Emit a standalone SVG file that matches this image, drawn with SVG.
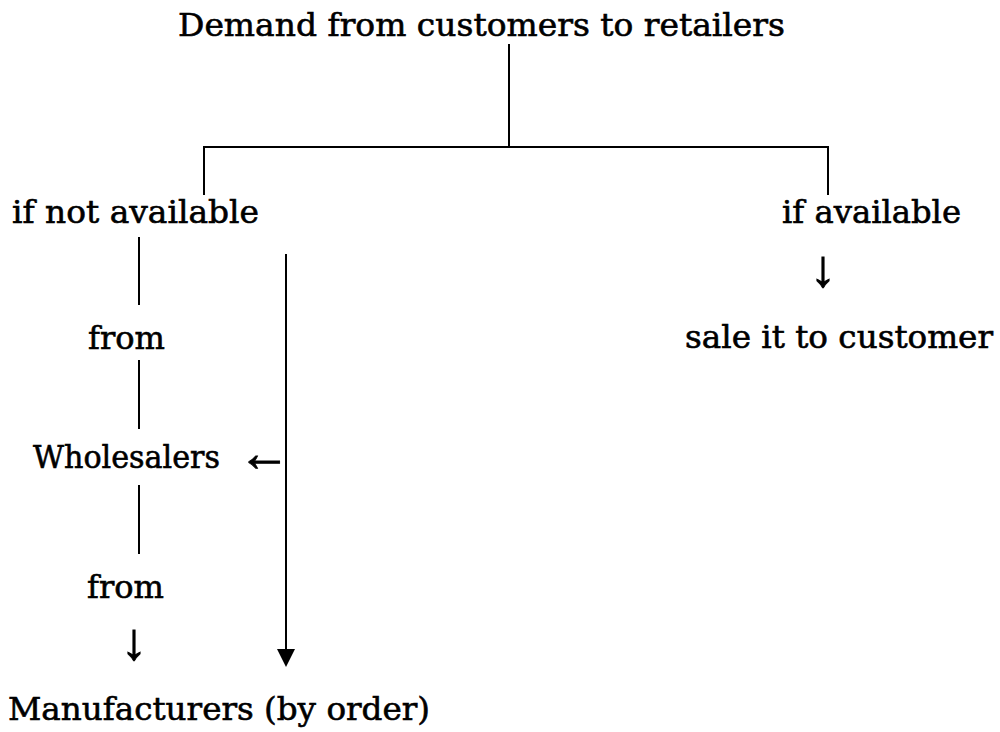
<svg xmlns="http://www.w3.org/2000/svg" width="1000" height="732" viewBox="0 0 1000 732">
<style>
.t{font-family:"DejaVu Serif","Liberation Serif",serif;font-size:32.5px;fill:#000;stroke:#000;stroke-width:0.6}
.a{font-family:"Liberation Serif","DejaVu Serif",serif;font-size:52px;fill:#000;stroke:#000;stroke-width:0.9}
.c{stroke:#000;stroke-width:2;fill:none}
</style>
<rect width="1000" height="732" fill="#fff"/>
<g id="connectors">
<line class="c" x1="509" y1="44" x2="509" y2="148"/>
<line class="c" x1="204" y1="147" x2="829" y2="147" stroke-width="2.5"/>
<line class="c" x1="204" y1="146" x2="204" y2="195"/>
<line class="c" x1="828" y1="146" x2="828" y2="195"/>
<line class="c" x1="139" y1="237" x2="139" y2="305"/>
<line class="c" x1="139" y1="360" x2="139" y2="429"/>
<line class="c" x1="139" y1="485" x2="139" y2="554"/>
<line class="c" x1="286" y1="254" x2="286" y2="652"/>
<path d="M277,649 L295,649 L286,667 Z" fill="#000"/>
</g>
<g id="n-demand"><text class="t" x="178" y="36" textLength="607" lengthAdjust="spacingAndGlyphs">Demand from customers to retailers</text></g>
<g id="n-notavail"><text class="t" x="12" y="223" textLength="247" lengthAdjust="spacingAndGlyphs">if not available</text></g>
<g id="n-avail"><text class="t" x="782" y="223" textLength="179" lengthAdjust="spacingAndGlyphs">if available</text></g>
<g id="n-arrow-right"><text class="a" x="823" y="286" text-anchor="middle">↓</text></g>
<g id="n-sale"><text class="t" x="685" y="348" textLength="308" lengthAdjust="spacingAndGlyphs">sale it to customer</text></g>
<g id="n-from1"><text class="t" x="88" y="349" textLength="77" lengthAdjust="spacingAndGlyphs">from</text></g>
<g id="n-wholesalers"><text class="t" x="33" y="468" textLength="187" lengthAdjust="spacingAndGlyphs">Wholesalers</text><text class="a" x="264" y="471" text-anchor="middle">←</text></g>
<g id="n-from2"><text class="t" x="87" y="598" textLength="77" lengthAdjust="spacingAndGlyphs">from</text></g>
<g id="n-arrow-left"><text class="a" x="134" y="659" text-anchor="middle">↓</text></g>
<g id="n-manufacturers"><text class="t" x="8" y="720" textLength="422" lengthAdjust="spacingAndGlyphs">Manufacturers (by order)</text></g>
</svg>
